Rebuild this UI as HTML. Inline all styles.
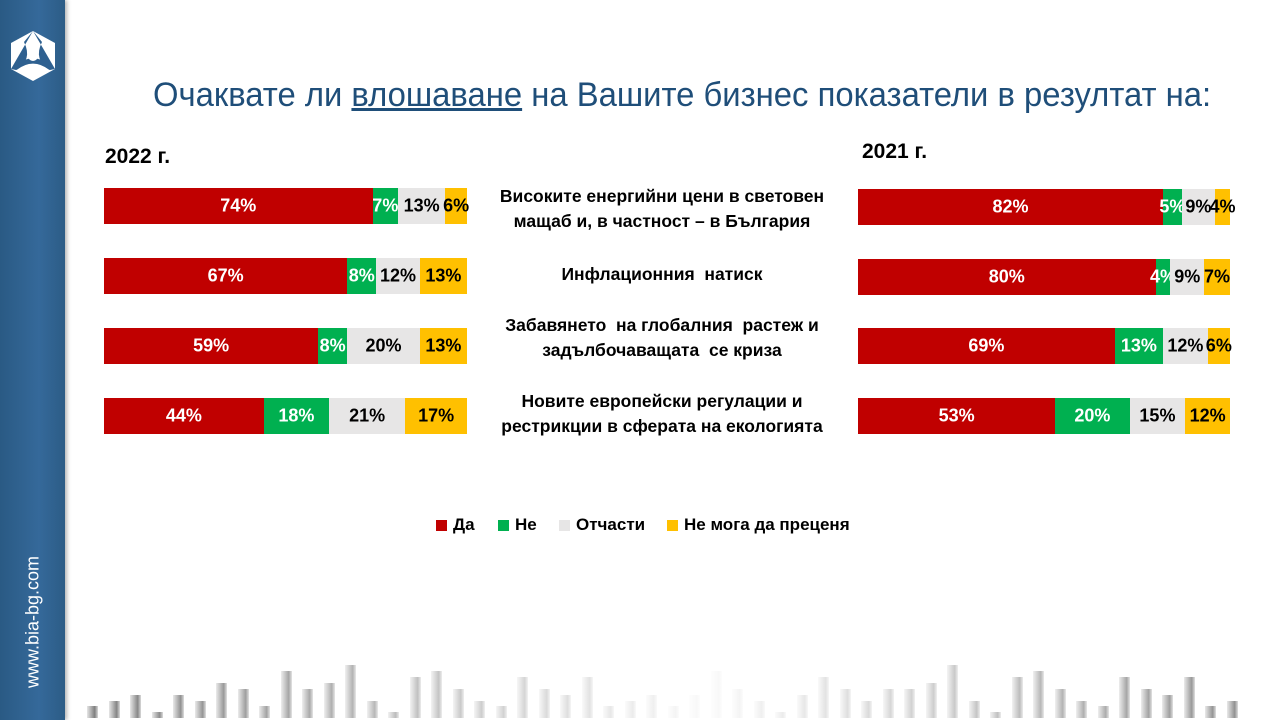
<!DOCTYPE html>
<html><head><meta charset="utf-8">
<style>
body{margin:0;width:1280px;height:720px;position:relative;overflow:hidden;background:#fff;font-family:"Liberation Sans","DejaVu Sans",sans-serif;}
.side{position:absolute;left:0;top:0;width:65px;height:720px;background:linear-gradient(90deg,#2a5a84,#35699a 60%,#2c5c86);box-shadow:2px 0 4px rgba(0,0,0,.3);}
.side .url{position:absolute;left:33px;top:622px;transform:translate(-50%,-50%) rotate(-90deg);color:#fff;font-size:18px;white-space:nowrap;}
.title{position:absolute;left:153px;top:76px;font-size:34px;color:#1f4e79;white-space:nowrap;transform:scaleX(0.965);transform-origin:0 0;}
.yr{position:absolute;font-weight:bold;font-size:21px;color:#000;}
.bar{position:absolute;height:36px;display:flex;}
.bar div{height:100%;position:relative;}
.bar span{position:absolute;left:50%;top:50%;transform:translate(-50%,-50%);font-weight:bold;font-size:18px;white-space:nowrap;}
.r{background:#c00000;color:#fff}.g{background:#00b050;color:#fff}.s{background:#e7e6e6;color:#000}.y{background:#ffc000;color:#000}
.lab{position:absolute;left:472px;width:380px;text-align:center;font-weight:bold;font-size:17.5px;line-height:25px;color:#000;}
.leg{position:absolute;top:515px;font-weight:bold;font-size:17px;display:flex;align-items:center;}
.leg i{display:inline-block;width:11px;height:11px;margin-right:6px;}
.deco{position:absolute;bottom:2px;width:11px;}
</style></head><body>
<div class="side">
<svg style="position:absolute;left:10px;top:30px" width="46" height="52" viewBox="0 0 46 52">
<polygon points="23,1 45,13 45,39 23,51 1,39 1,13" fill="#fff"/>
<path d="M23,1 L14,12 Q23,30 6,40 L1,39 Z M23,1 L32,12 Q23,30 40,40 L45,39 Z" fill="#2e6090"/>
<path d="M5,38 Q23,24 41,38" stroke="#2e6090" stroke-width="5" fill="none"/>
<circle cx="23" cy="26" r="5" fill="#fff"/>
</svg>
<div class="url">www.bia-bg.com</div>
</div>
<div class="title">Очаквате ли <u>влошаване</u> на Вашите бизнес показатели в резултат на:</div>
<div class="yr" style="left:105px;top:145px">2022 г.</div>
<div class="yr" style="left:862px;top:140px">2021 г.</div>

<div class="bar" style="left:104px;top:188px;width:363px"><div class="r" style="width:74%"><span>74%</span></div><div class="g" style="width:7%"><span>7%</span></div><div class="s" style="width:13%"><span>13%</span></div><div class="y" style="width:6%"><span>6%</span></div></div>
<div class="bar" style="left:104px;top:258px;width:363px"><div class="r" style="width:67%"><span>67%</span></div><div class="g" style="width:8%"><span>8%</span></div><div class="s" style="width:12%"><span>12%</span></div><div class="y" style="width:13%"><span>13%</span></div></div>
<div class="bar" style="left:104px;top:328px;width:363px"><div class="r" style="width:59%"><span>59%</span></div><div class="g" style="width:8%"><span>8%</span></div><div class="s" style="width:20%"><span>20%</span></div><div class="y" style="width:13%"><span>13%</span></div></div>
<div class="bar" style="left:104px;top:398px;width:363px"><div class="r" style="width:44%"><span>44%</span></div><div class="g" style="width:18%"><span>18%</span></div><div class="s" style="width:21%"><span>21%</span></div><div class="y" style="width:17%"><span>17%</span></div></div>

<div class="bar" style="left:858px;top:189px;width:372px"><div class="r" style="width:82%"><span>82%</span></div><div class="g" style="width:5%"><span>5%</span></div><div class="s" style="width:9%"><span>9%</span></div><div class="y" style="width:4%"><span>4%</span></div></div>
<div class="bar" style="left:858px;top:259px;width:372px"><div class="r" style="width:80%"><span>80%</span></div><div class="g" style="width:4%"><span>4%</span></div><div class="s" style="width:9%"><span>9%</span></div><div class="y" style="width:7%"><span>7%</span></div></div>
<div class="bar" style="left:858px;top:328px;width:372px"><div class="r" style="width:69%"><span>69%</span></div><div class="g" style="width:13%"><span>13%</span></div><div class="s" style="width:12%"><span>12%</span></div><div class="y" style="width:6%"><span>6%</span></div></div>
<div class="bar" style="left:858px;top:398px;width:372px"><div class="r" style="width:53%"><span>53%</span></div><div class="g" style="width:20%"><span>20%</span></div><div class="s" style="width:15%"><span>15%</span></div><div class="y" style="width:12%"><span>12%</span></div></div>

<div class="lab" style="top:184px">Високите енергийни цени в световен<br>мащаб и, в частност – в България</div>
<div class="lab" style="top:262px">Инфлационния&nbsp; натиск</div>
<div class="lab" style="top:313px">Забавянето&nbsp; на глобалния&nbsp; растеж и<br>задълбочаващата&nbsp; се криза</div>
<div class="lab" style="top:389px">Новите европейски регулации и<br>рестрикции в сферата на екологията</div>

<div class="leg" style="left:436px"><i style="background:#c00000"></i>Да</div>
<div class="leg" style="left:498px"><i style="background:#00b050"></i>Не</div>
<div class="leg" style="left:559px"><i style="background:#e7e6e6"></i>Отчасти</div>
<div class="leg" style="left:667px"><i style="background:#ffc000"></i>Не мога да преценя</div>

<div id="d"></div>
<script>
var h=[12,17,23,6,23,17,35,29,12,47,29,35,53,17,6,41,47,29,17,12,41,29,23,41,12,17,23,12,23,47,29,17,6,23,41,29,17,29,29,35,53,17,6,41,47,29,17,12,41,29,23,41,12,17];
var s='';
for(var i=0;i<h.length;i++){var x=87+i*21.5;var c=Math.abs(x-700)/600;var g=Math.round(250-c*120);
s+='<div class="deco" style="left:'+x+'px;height:'+h[i]+'px;background:linear-gradient(90deg,rgba('+g+','+g+','+g+',0.2),rgb('+g+','+g+','+g+') 70%,rgba('+g+','+g+','+g+',0.3))"></div>';}
document.getElementById('d').innerHTML=s;
</script>
</body></html>
